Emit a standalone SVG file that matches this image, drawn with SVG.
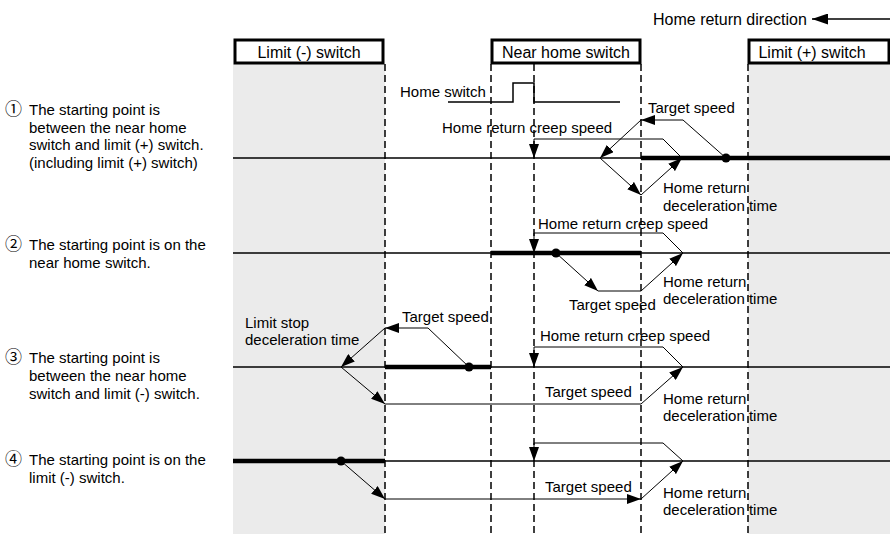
<svg xmlns="http://www.w3.org/2000/svg" width="890" height="534" viewBox="0 0 890 534">
<style>
text{font-family:"Liberation Sans",Arial,sans-serif;font-size:15px;fill:#000}
.lbl{font-size:16px}
.box{fill:#fff;stroke:#000;stroke-width:3}
.gray{fill:#ebebeb}
.dash{stroke:#000;stroke-width:1.5;stroke-dasharray:7,4;fill:none}
.base{stroke:#000;stroke-width:1.5;fill:none}
.thick{stroke:#000;stroke-width:4.5;fill:none}
.c{stroke:#000;stroke-width:1;fill:none}
.ca{stroke:#000;stroke-width:1;fill:none;marker-end:url(#ah)}
.num{font-family:"Noto Sans CJK JP","DejaVu Sans",sans-serif;font-size:17px}
</style>
<defs>
<marker id="ah" markerUnits="userSpaceOnUse" markerWidth="14" markerHeight="10" refX="14" refY="5" orient="auto">
<path d="M0,0 L14,5 L0,10 z" fill="#000"/>
</marker>
<marker id="ahb" markerUnits="userSpaceOnUse" markerWidth="16" markerHeight="11" refX="16" refY="5.5" orient="auto">
<path d="M0,0 L16,5.5 L0,11 z" fill="#000"/>
</marker>
</defs>
<g id="regions">
<rect class="gray" x="233" y="64" width="152" height="470"/>
<rect class="gray" x="748" y="64" width="142" height="470"/>
</g>
<g id="direction">
<text class="lbl" x="653" y="25">Home return direction</text>
<line x1="890" y1="19" x2="812" y2="19" stroke="#000" stroke-width="1.5" marker-end="url(#ahb)"/>
</g>
<g id="limit-minus">
<rect class="box" x="235" y="40" width="148" height="23"/>
<text class="lbl" x="309" y="58" text-anchor="middle">Limit (-) switch</text>
</g>
<g id="near-home">
<rect class="box" x="492" y="40" width="148" height="23"/>
<text class="lbl" x="566" y="58" text-anchor="middle">Near home switch</text>
</g>
<g id="limit-plus">
<rect class="box" x="749" y="40" width="140" height="23"/>
<text class="lbl" x="812" y="58" text-anchor="middle">Limit (+) switch</text>
</g>
<g id="guides">
<line class="dash" x1="385" y1="64" x2="385" y2="534"/>
<line class="dash" x1="491" y1="64" x2="491" y2="534"/>
<line class="dash" x1="534" y1="64" x2="534" y2="534"/>
<line class="dash" x1="641" y1="64" x2="641" y2="534"/>
<line class="dash" x1="748" y1="64" x2="748" y2="534"/>
</g>
<g id="home-switch">
<text x="400" y="97">Home switch</text>
<path class="base" d="M448,102 L513,102 L513,83 L534,83 L534,102 L620,102" stroke-width="1.2"/>
</g>
<g id="case-labels">
<text x="5" y="115"><tspan class="num">①</tspan><tspan x="29">The starting point is</tspan></text>
<text x="29" y="132.5">between the near home</text>
<text x="29" y="150">switch and limit (+) switch.</text>
<text x="29" y="167.5">(including limit (+) switch)</text>
<text x="5" y="250"><tspan class="num">②</tspan><tspan x="29">The starting point is on the</tspan></text>
<text x="29" y="268">near home switch.</text>
<text x="5" y="363"><tspan class="num">③</tspan><tspan x="29">The starting point is</tspan></text>
<text x="29" y="381">between the near home</text>
<text x="29" y="399">switch and limit (-) switch.</text>
<text x="5" y="465"><tspan class="num">④</tspan><tspan x="29">The starting point is on the</tspan></text>
<text x="29" y="483">limit (-) switch.</text>
</g>
<g id="connectors">
<line class="base" x1="233" y1="158" x2="890" y2="158"/>
<line class="base" x1="233" y1="253" x2="890" y2="253"/>
<line class="base" x1="233" y1="367" x2="890" y2="367"/>
<line class="base" x1="233" y1="461" x2="890" y2="461"/>
<line class="thick" x1="641" y1="158" x2="890" y2="158"/>
<line class="thick" x1="491" y1="253" x2="641" y2="253"/>
<line class="thick" x1="385" y1="367" x2="491" y2="367"/>
<line class="thick" x1="233" y1="461" x2="385" y2="461"/>
<circle cx="726" cy="158" r="4.5"/>
<circle cx="556" cy="253" r="4.5"/>
<circle cx="469" cy="367" r="4.5"/>
<circle cx="341" cy="461" r="4.5"/>
<path class="ca" d="M726,158 L683,120 L641,120"/>
<path class="ca" d="M641,120 L600,158"/>
<path class="ca" d="M600,158 L641,195"/>
<path class="ca" d="M641,195 L682,158"/>
<path class="ca" d="M682,158 L663,139 L534,139 L534,158"/>
<path class="ca" d="M556,253 L598,291"/>
<path class="ca" d="M598,291 L641,291 L683,253"/>
<path class="ca" d="M683,253 L663,233 L534,233 L534,253"/>
<path class="ca" d="M469,367 L428,328 L385,328"/>
<path class="ca" d="M385,328 L341,367"/>
<path class="ca" d="M341,367 L385,404"/>
<path class="ca" d="M385,404 L641,404 L683,367"/>
<path class="ca" d="M683,367 L663,347 L534,347 L534,367"/>
<path class="ca" d="M341,461 L385,499"/>
<path class="ca" d="M385,499 L641,499"/>
<path class="ca" d="M641,499 L683,461"/>
<path class="ca" d="M683,461 L663,443 L534,443 L534,461"/>
</g>
<g id="speed-labels">
<text x="442" y="133">Home return creep speed</text>
<text x="648" y="113">Target speed</text>
<text x="663" y="193">Home return</text>
<text x="663" y="211">deceleration time</text>
<text x="538" y="229">Home return creep speed</text>
<text x="569" y="310">Target speed</text>
<text x="663" y="287">Home return</text>
<text x="663" y="304">deceleration time</text>
<text x="245" y="328">Limit stop</text>
<text x="245" y="345">deceleration time</text>
<text x="402" y="322">Target speed</text>
<text x="540" y="341">Home return creep speed</text>
<text x="545" y="397">Target speed</text>
<text x="663" y="404">Home return</text>
<text x="663" y="421">deceleration time</text>
<text x="545" y="492">Target speed</text>
<text x="663" y="498">Home return</text>
<text x="663" y="515">deceleration time</text>
</g>
</svg>
